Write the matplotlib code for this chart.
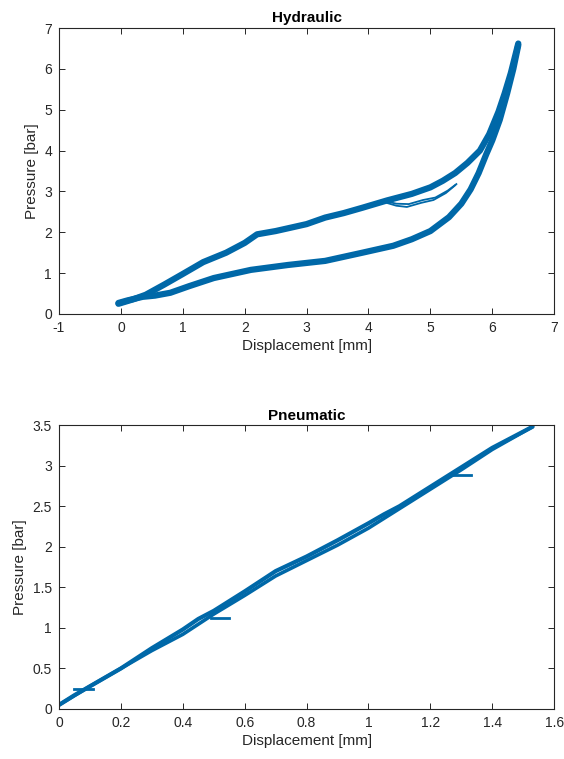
import matplotlib
matplotlib.use('Agg')
import matplotlib.pyplot as plt

plt.rcParams['font.family'] = ['Liberation Sans', 'DejaVu Sans']
plt.rcParams['axes.unicode_minus'] = False

line_color = '#0068a8'

# Hydraulic loop: loading (upper) and unloading (lower) branches
hyd_up_x = [-0.04, 0.2, 0.4, 0.7, 1.0, 1.33, 1.7, 2.0, 2.2, 2.5, 3.0, 3.3, 3.6, 3.9,
            4.3, 4.7, 5.0, 5.2, 5.4, 5.6, 5.8, 5.95, 6.1, 6.2, 6.3, 6.42]
hyd_up_y = [0.25, 0.36, 0.47, 0.72, 0.98, 1.27, 1.5, 1.74, 1.95, 2.03, 2.2, 2.36, 2.47, 2.6,
            2.78, 2.94, 3.1, 3.26, 3.45, 3.7, 4.0, 4.4, 4.95, 5.4, 5.9, 6.62]
hyd_dn_x = [6.42, 6.34, 6.24, 6.12, 6.0, 5.9, 5.78, 5.65, 5.5, 5.3, 5.0, 4.7, 4.4, 3.9, 3.3,
            2.7, 2.1, 1.8, 1.5, 1.1, 0.8, 0.55, 0.35, 0.1, -0.04]
hyd_dn_y = [6.58, 6.0, 5.4, 4.75, 4.25, 3.9, 3.45, 3.05, 2.7, 2.37, 2.03, 1.83, 1.67, 1.5, 1.3,
            1.2, 1.08, 0.98, 0.88, 0.68, 0.52, 0.45, 0.42, 0.33, 0.27]
# stray cycles dipping below the loading band
hyd_w1_x = [4.25, 4.45, 4.62, 4.85, 5.05, 5.25, 5.4]
hyd_w1_y = [2.74, 2.65, 2.62, 2.72, 2.79, 2.96, 3.15]
hyd_w2_x = [4.25, 4.45, 4.65, 4.88, 5.08, 5.28, 5.42]
hyd_w2_y = [2.77, 2.70, 2.69, 2.79, 2.85, 3.02, 3.18]

# Pneumatic loop
pn_up_x = [0.0, 0.05, 0.1, 0.2, 0.3, 0.4, 0.45, 0.5, 0.6, 0.7, 0.8, 0.9, 1.0,
           1.05, 1.1, 1.2, 1.3, 1.4, 1.53]
pn_up_y = [0.05, 0.17, 0.28, 0.50, 0.75, 0.98, 1.11, 1.21, 1.45, 1.70, 1.88, 2.08, 2.29,
           2.40, 2.50, 2.74, 2.98, 3.22, 3.48]
pn_dn_x = [1.53, 1.4, 1.3, 1.2, 1.1, 1.0, 0.9, 0.8, 0.7, 0.6, 0.5, 0.4, 0.3,
           0.2, 0.1, 0.0]
pn_dn_y = [3.48, 3.2, 2.95, 2.71, 2.47, 2.23, 2.02, 1.83, 1.64, 1.40, 1.17, 0.92, 0.72,
           0.5, 0.28, 0.05]
# short horizontal starts of the cycles
pn_stub_x = [[0.05, 0.11], [0.49, 0.55], [1.27, 1.33]]
pn_stub_y = [[0.25, 0.25], [1.12, 1.12], [2.88, 2.88]]

fig = plt.figure(figsize=(5.64, 7.59), dpi=100)
ax1 = fig.add_axes([0.1046, 0.5863, 0.878, 0.3768])
ax2 = fig.add_axes([0.1046, 0.0659, 0.878, 0.374])


def style(ax):
    ax.tick_params(direction='in', top=True, right=True, length=4, pad=5,
                   labelsize=10, color='#262626', labelcolor='#262626', width=0.7)
    for s in ax.spines.values():
        s.set_color('#262626')
        s.set_linewidth(0.8)


ax1.plot(hyd_up_x, hyd_up_y, color=line_color, lw=4.5, solid_capstyle='round', solid_joinstyle='round')
ax1.plot(hyd_dn_x, hyd_dn_y, color=line_color, lw=4.5, solid_capstyle='round', solid_joinstyle='round')
ax1.plot(hyd_w1_x, hyd_w1_y, color=line_color, lw=1.3)
ax1.plot(hyd_w2_x, hyd_w2_y, color=line_color, lw=1.3)
ax1.set_xlim(-1, 7)
ax1.set_ylim(0, 7)
ax1.set_xticks(range(-1, 8))
ax1.set_yticks(range(0, 8))
ax1.set_xlabel('Displacement [mm]', fontsize=11, color='#262626', labelpad=3)
ax1.set_ylabel('Pressure [bar]', fontsize=11, color='#262626', labelpad=4)
ax1.set_title('Hydraulic', fontsize=11, fontweight='bold', pad=4)
style(ax1)

ax2.plot(pn_up_x, pn_up_y, color=line_color, lw=3, solid_capstyle='round', solid_joinstyle='round')
ax2.plot(pn_dn_x, pn_dn_y, color=line_color, lw=2.6, solid_capstyle='round', solid_joinstyle='round')
for sx, sy in zip(pn_stub_x, pn_stub_y):
    ax2.plot(sx, sy, color=line_color, lw=2)
ax2.set_xlim(0, 1.6)
ax2.set_ylim(0, 3.5)
ax2.set_xticks([0, 0.2, 0.4, 0.6, 0.8, 1, 1.2, 1.4, 1.6])
ax2.set_xticklabels(['0', '0.2', '0.4', '0.6', '0.8', '1', '1.2', '1.4', '1.6'])
ax2.set_yticks([0, 0.5, 1, 1.5, 2, 2.5, 3, 3.5])
ax2.set_yticklabels(['0', '0.5', '1', '1.5', '2', '2.5', '3', '3.5'])
ax2.set_xlabel('Displacement [mm]', fontsize=11, color='#262626', labelpad=3)
ax2.set_ylabel('Pressure [bar]', fontsize=11, color='#262626', labelpad=4)
ax2.set_title('Pneumatic', fontsize=11, fontweight='bold', pad=4)
style(ax2)

fig.savefig('out.png', dpi=100)
